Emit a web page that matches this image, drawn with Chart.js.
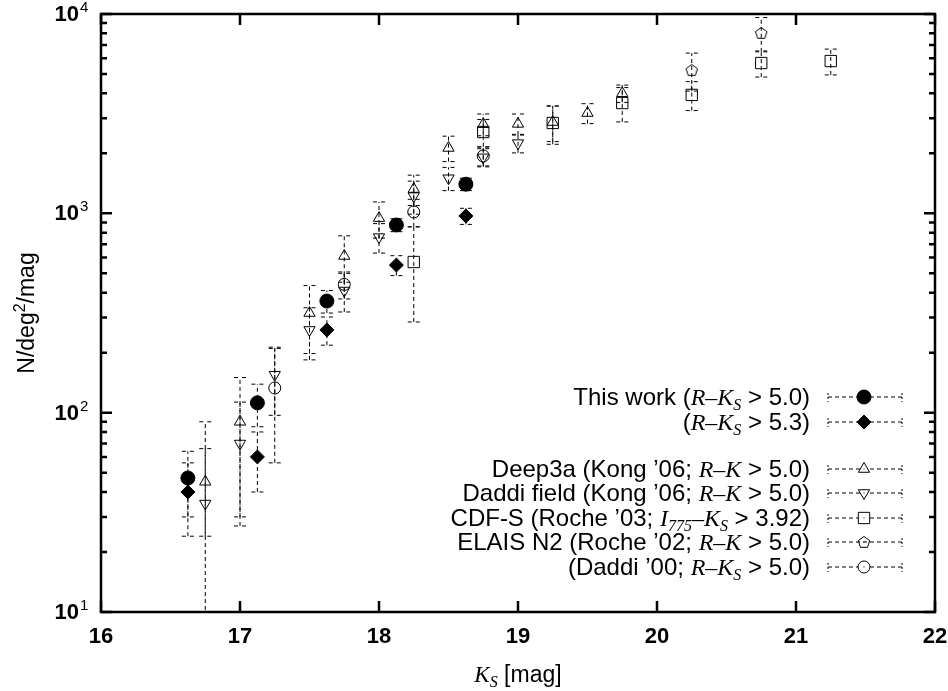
<!DOCTYPE html>
<html>
<head>
<meta charset="utf-8">
<script src="https://cdn.jsdelivr.net/npm/chart.js@4.4.1/dist/chart.umd.min.js"></script>
<style>
html, body { margin: 0; padding: 0; background: #fff; }
</style>
</head>
<body>
<canvas id="c" width="948" height="691"></canvas>
<script>
// counts per magnitude bin (N/deg^2/mag)
var twX = [16.625, 17.125, 17.625, 18.125, 18.625];
var tw50Y = [47, 112, 363, 874, 1400];
var tw50Err = [17, 27, 47, 65, 100];
var tw53Y = [40, 60, 260, 550, 970];
var tw53Err = [16, 20, 42, 63, 90];

var deepX = [16.75, 17.0, 17.5, 17.75, 18.0, 18.25, 18.5, 18.75, 19.0, 19.25, 19.5, 19.75];
var deepY = [45, 90, 316, 611, 946, 1324, 2128, 2800, 2810, 2870, 3184, 4000];
var deepErr = [21, 60, 118, 160, 195, 230, 310, 350, 340, 580, 365, 400];

var fieldX = [16.75, 17.0, 17.25, 17.5, 17.75, 18.0, 18.25, 18.5, 18.75, 19.0];
var fieldY = [35, 70, 155, 260, 410, 760, 1220, 1500, 1910, 2250];
var fieldErr = [55, 43, 58, 76, 90, 128, 230, 200, 200, 240];

var cdfsX = [18.25, 18.75, 19.25, 19.75, 20.25, 20.75, 21.25];
var cdfsY = [570, 2558, 2840, 3575, 3928, 5676, 5808];
var cdfsErr = [285, 400, 620, 700, 650, 850, 860];

var elaisX = [20.25, 20.75];
var elaisY = [5236, 8030];
var elaisErr = [1130, 1570];

var daddiX = [17.25, 17.75, 18.25, 18.75];
var daddiY = [133, 440, 1016, 1940];
var daddiErr = [77, 68, 160, 210];

var xTicks = [16, 17, 18, 19, 20, 21, 22];
var yTicks = [10, 100, 1000, 10000];
var yTickExp = ['1', '2', '3', '4'];

// legend lines: [text, kind]  n = sans, i = serif italic, s = italic subscript, r = serif
var legendText = [
  [['This work (', 'n'], ['R', 'i'], ['\u2013', 'r'], ['K', 'i'], ['S', 's'], [' > 5.0)', 'n']],
  [['(', 'n'], ['R', 'i'], ['\u2013', 'r'], ['K', 'i'], ['S', 's'], [' > 5.3)', 'n']],
  [['Deep3a (Kong \u201906; ', 'n'], ['R', 'i'], ['\u2013', 'r'], ['K', 'i'], [' > 5.0)', 'n']],
  [['Daddi field (Kong \u201906; ', 'n'], ['R', 'i'], ['\u2013', 'r'], ['K', 'i'], [' > 5.0)', 'n']],
  [['CDF-S (Roche \u201903; ', 'n'], ['I', 'i'], ['775', 's'], ['\u2013', 'r'], ['K', 'i'], ['S', 's'], [' > 3.92)', 'n']],
  [['ELAIS N2 (Roche \u201902; ', 'n'], ['R', 'i'], ['\u2013', 'r'], ['K', 'i'], [' > 5.0)', 'n']],
  [['(Daddi \u201900; ', 'n'], ['R', 'i'], ['\u2013', 'r'], ['K', 'i'], ['S', 's'], [' > 5.0)', 'n']]
];
var legendRowY = [397, 422, 469, 493, 518, 542, 567];

var SANS = '"Liberation Sans", Arial, sans-serif';
var SERIF = '"Liberation Serif", "Times New Roman", serif';

function pts(xs, ys, es) {
  return xs.map(function (x, i) { return { x: x, y: ys[i], e: es[i] }; });
}

function pentagon(r) {
  var s = Math.ceil(2 * r + 4);
  var c = document.createElement('canvas');
  c.width = s; c.height = s;
  var g = c.getContext('2d');
  g.strokeStyle = '#000';
  g.lineWidth = 1;
  g.beginPath();
  for (var i = 0; i < 5; i++) {
    var a = -Math.PI / 2 + i * 2 * Math.PI / 5;
    var px = s / 2 + r * Math.cos(a), py = s / 2 + r * Math.sin(a) + 0.5;
    if (i === 0) g.moveTo(px, py); else g.lineTo(px, py);
  }
  g.closePath();
  g.stroke();
  return c;
}

function fontFor(kind, size) {
  if (kind === 'i') return 'italic ' + size + 'px ' + SERIF;
  if (kind === 's') return 'italic ' + Math.round(size * 0.68) + 'px ' + SERIF;
  if (kind === 'r') return size + 'px ' + SERIF;
  if (kind === 'u') return Math.round(size * 0.68) + 'px ' + SANS;
  return size + 'px ' + SANS;
}

function drawRich(ctx, segs, x, y, size, align) {
  var w = 0;
  segs.forEach(function (s) { ctx.font = fontFor(s[1], size); w += ctx.measureText(s[0]).width; });
  var cx = align === 'right' ? x - w : (align === 'center' ? x - w / 2 : x);
  ctx.textAlign = 'left';
  ctx.textBaseline = 'alphabetic';
  segs.forEach(function (s) {
    ctx.font = fontFor(s[1], size);
    var dy = 0;
    if (s[1] === 's') dy = size * 0.22;
    if (s[1] === 'u') dy = -size * 0.4;
    ctx.fillText(s[0], cx, y + dy);
    cx += ctx.measureText(s[0]).width;
  });
}

var errorBars = {
  id: 'errorBars',
  beforeDatasetsDraw: function (chart) {
    var ctx = chart.ctx, xs = chart.scales.x, ys = chart.scales.y, a = chart.chartArea;
    ctx.save();
    ctx.beginPath();
    ctx.rect(a.left, a.top, a.right - a.left, a.bottom - a.top);
    ctx.clip();
    ctx.strokeStyle = '#000';
    ctx.lineWidth = 1;
    chart.data.datasets.forEach(function (ds) {
      ds.data.forEach(function (p) {
        var px = xs.getPixelForValue(p.x);
        var lo = p.y - p.e, hi = p.y + p.e;
        var yHi = ys.getPixelForValue(hi);
        var yLo = lo > 0 ? ys.getPixelForValue(lo) : a.bottom + 5;
        ctx.setLineDash([4, 3]);
        ctx.beginPath();
        ctx.moveTo(px, yLo);
        ctx.lineTo(px, yHi);
        ctx.stroke();
        ctx.setLineDash([]);
        ctx.beginPath();
        ctx.moveTo(px - 6, yHi); ctx.lineTo(px - 2, yHi);
        ctx.moveTo(px + 2, yHi); ctx.lineTo(px + 6, yHi);
        if (lo > 0) {
          ctx.moveTo(px - 6, yLo); ctx.lineTo(px - 2, yLo);
          ctx.moveTo(px + 2, yLo); ctx.lineTo(px + 6, yLo);
        }
        ctx.stroke();
      });
    });
    ctx.restore();
  }
};

var frame = {
  id: 'frame',
  afterDraw: function (chart) {
    var ctx = chart.ctx, xs = chart.scales.x, ys = chart.scales.y, a = chart.chartArea;
    ctx.save();
    ctx.strokeStyle = '#000';
    ctx.fillStyle = '#000';
    ctx.lineWidth = 2.5;
    ctx.setLineDash([]);
    ctx.strokeRect(a.left, a.top, a.right - a.left, a.bottom - a.top);

    // ticks, drawn inward on all four sides
    ctx.beginPath();
    xTicks.forEach(function (v) {
      var px = xs.getPixelForValue(v);
      ctx.moveTo(px, a.bottom); ctx.lineTo(px, a.bottom - 11);
      ctx.moveTo(px, a.top); ctx.lineTo(px, a.top + 11);
    });
    yTicks.forEach(function (v, i) {
      var py = ys.getPixelForValue(v);
      ctx.moveTo(a.left, py); ctx.lineTo(a.left + 11, py);
      ctx.moveTo(a.right, py); ctx.lineTo(a.right - 11, py);
      if (i < yTicks.length - 1) {
        for (var k = 2; k < 10; k++) {
          var pm = ys.getPixelForValue(v * k);
          ctx.moveTo(a.left, pm); ctx.lineTo(a.left + 6, pm);
          ctx.moveTo(a.right, pm); ctx.lineTo(a.right - 6, pm);
        }
      }
    });
    ctx.stroke();

    // tick labels
    ctx.textBaseline = 'middle';
    ctx.textAlign = 'center';
    ctx.font = 'bold 22px ' + SANS;
    xTicks.forEach(function (v) {
      ctx.fillText(String(v), xs.getPixelForValue(v), a.bottom + 25);
    });
    yTicks.forEach(function (v, i) {
      var py = ys.getPixelForValue(v);
      ctx.font = 'bold 22px ' + SANS;
      ctx.textAlign = 'right';
      ctx.textBaseline = 'middle';
      ctx.fillText('10', 79, py + 1);
      ctx.font = '15px ' + SANS;
      ctx.textAlign = 'left';
      ctx.textBaseline = 'alphabetic';
      ctx.fillText(yTickExp[i], 80, py - 2);
    });

    // axis titles
    drawRich(ctx, [['K', 'i'], ['S', 's'], [' [mag]', 'n']], (a.left + a.right) / 2, 682, 23, 'center');
    ctx.save();
    ctx.translate(34, (a.top + a.bottom) / 2);
    ctx.rotate(-Math.PI / 2);
    drawRich(ctx, [['N/deg', 'n'], ['2', 'u'], ['/mag', 'n']], 0, 0, 23, 'center');
    ctx.restore();

    // key
    var ds = chart.data.datasets;
    legendText.forEach(function (segs, i) {
      var y = legendRowY[i];
      ctx.fillStyle = '#000';
      drawRich(ctx, segs, 810, y + 8, 24, 'right');
      ctx.lineWidth = 1;
      ctx.setLineDash([4, 3]);
      ctx.beginPath();
      ctx.moveTo(828, y); ctx.lineTo(902, y);
      ctx.stroke();
      ctx.setLineDash([2, 2]);
      ctx.beginPath();
      ctx.moveTo(828, y - 4); ctx.lineTo(828, y + 5);
      ctx.moveTo(902, y - 4); ctx.lineTo(902, y + 5);
      ctx.stroke();
      ctx.setLineDash([]);
      var d = ds[i];
      ctx.fillStyle = d.backgroundColor === '#000' ? '#000' : '#fff';
      ctx.strokeStyle = '#000';
      Chart.helpers.drawPoint(ctx, {
        pointStyle: d.pointStyle, radius: d.pointRadius,
        rotation: d.rotation || 0, borderWidth: 1
      }, 864, y);
      ctx.fillStyle = '#000';
      if (d.backgroundColor !== '#000') ctx.fillRect(863.5, y - 0.5, 1, 1);
    });
    ctx.restore();
  }
};

var open = 'rgba(0,0,0,0)';
new Chart(document.getElementById('c'), {
  type: 'scatter',
  data: {
    datasets: [
      { label: 'This work (R-Ks > 5.0)', data: pts(twX, tw50Y, tw50Err), pointStyle: 'circle', pointRadius: 7, backgroundColor: '#000', borderColor: '#000', borderWidth: 1 },
      { label: '(R-Ks > 5.3)', data: pts(twX, tw53Y, tw53Err), pointStyle: 'rectRot', pointRadius: 7, backgroundColor: '#000', borderColor: '#000', borderWidth: 1 },
      { label: 'Deep3a', data: pts(deepX, deepY, deepErr), pointStyle: 'triangle', pointRadius: 6.5, backgroundColor: open, borderColor: '#000', borderWidth: 1 },
      { label: 'Daddi field', data: pts(fieldX, fieldY, fieldErr), pointStyle: 'triangle', rotation: 180, pointRadius: 6.5, backgroundColor: open, borderColor: '#000', borderWidth: 1 },
      { label: 'CDF-S', data: pts(cdfsX, cdfsY, cdfsErr), pointStyle: 'rect', pointRadius: 8, backgroundColor: open, borderColor: '#000', borderWidth: 1 },
      { label: 'ELAIS N2', data: pts(elaisX, elaisY, elaisErr), pointStyle: pentagon(6), pointRadius: 6, backgroundColor: open, borderColor: '#000', borderWidth: 1 },
      { label: 'Daddi 00', data: pts(daddiX, daddiY, daddiErr), pointStyle: 'circle', pointRadius: 6, backgroundColor: open, borderColor: '#000', borderWidth: 1 }
    ]
  },
  options: {
    responsive: false,
    animation: false,
    events: [],
    layout: { padding: { left: 101, right: 13, top: 14, bottom: 79 } },
    plugins: { legend: { display: false }, tooltip: { enabled: false } },
    scales: {
      x: { type: 'linear', min: 16, max: 22, display: false },
      y: { type: 'logarithmic', min: 10, max: 10000, display: false }
    }
  },
  plugins: [errorBars, frame]
});
</script>
</body>
</html>
